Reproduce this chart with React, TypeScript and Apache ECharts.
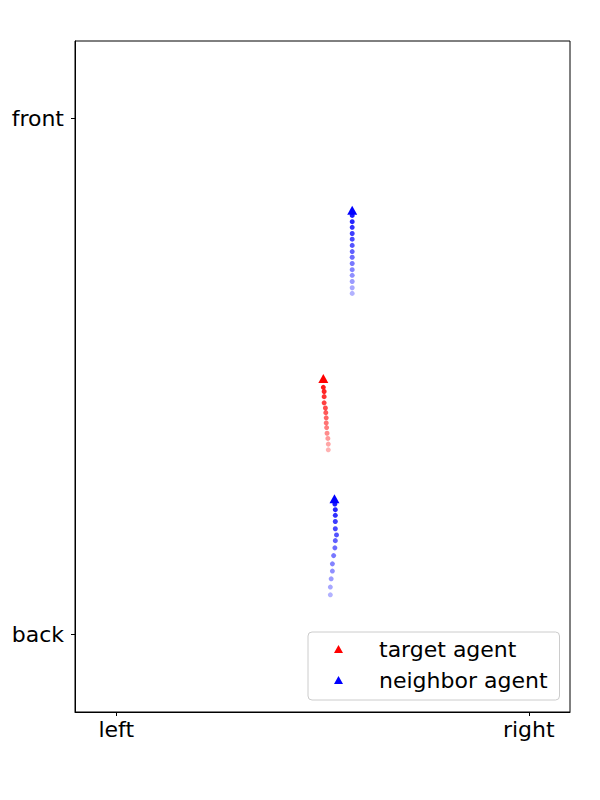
import React, { useEffect, useRef } from "react";
import * as echarts from "echarts";

// x: left = 0, right = 1 ; y: back = 0, front = 1
const xTickValues = [0, 1];
const xTickLabels = ["left", "right"];
const yTickValues = [0, 1];
const yTickLabels = ["back", "front"];

// trajectories, oldest -> newest
const targetX = [0.514, 0.514, 0.513, 0.511, 0.51, 0.509, 0.509, 0.508, 0.507, 0.504, 0.504, 0.504, 0.502];
const targetY = [0.358, 0.369, 0.38, 0.39, 0.401, 0.41, 0.42, 0.43, 0.439, 0.449, 0.461, 0.471, 0.479];
const targetHead = [0.502, 0.496];

const neighbor1X = [0.572, 0.572, 0.572, 0.572, 0.572, 0.572, 0.572, 0.572, 0.572, 0.572, 0.572, 0.572, 0.572, 0.572];
const neighbor1Y = [0.661, 0.672, 0.684, 0.696, 0.707, 0.719, 0.731, 0.742, 0.754, 0.766, 0.777, 0.789, 0.8, 0.812];
const neighbor1Head = [0.572, 0.822];

const neighbor2X = [0.519, 0.519, 0.521, 0.524, 0.524, 0.527, 0.53, 0.531, 0.534, 0.531, 0.531, 0.531, 0.531, 0.53];
const neighbor2Y = [0.077, 0.092, 0.108, 0.123, 0.137, 0.153, 0.168, 0.182, 0.193, 0.205, 0.219, 0.231, 0.242, 0.253];
const neighbor2Head = [0.529, 0.263];

const FONT = "DejaVu Sans";

function trail(xs: number[], ys: number[], color: string, name: string) {
  const n = xs.length;
  return {
    type: "scatter",
    name,
    symbol: "circle",
    symbolSize: 5,
    z: 3,
    data: xs.map((x, i) => ({
      value: [x, ys[i]],
      itemStyle: { color, opacity: 0.3 + (0.6 * i) / Math.max(1, n - 1) },
    })),
  };
}

function head(p: number[], color: string, name: string) {
  return {
    type: "scatter",
    name,
    symbol: "triangle",
    symbolSize: [10, 9],
    z: 4,
    itemStyle: { color, opacity: 1 },
    data: [p],
  };
}

export default function App() {
  const ref = useRef<HTMLDivElement>(null);
  useEffect(() => {
    if (!ref.current) return;
    const chart = echarts.init(ref.current, null, { renderer: "svg" });
    chart.setOption({
      animation: false,
      backgroundColor: "#ffffff",
      grid: {
        left: 75,
        right: 30,
        top: 41,
        bottom: 88,
        show: true,
        borderColor: "#000",
        borderWidth: 1,
        backgroundColor: "transparent",
      },
      xAxis: {
        type: "value",
        min: -0.1,
        max: 1.1,
        splitLine: { show: false },
        axisLine: { show: true, onZero: false, lineStyle: { color: "#000", width: 1 } },
        axisTick: { show: true, customValues: xTickValues, length: 4, lineStyle: { color: "#000", width: 1 } },
        axisLabel: {
          customValues: xTickValues,
          formatter: (v: number) => xTickLabels[xTickValues.indexOf(Math.round(v))] ?? "",
          fontSize: 22,
          fontFamily: FONT,
          color: "#000",
          margin: 6,
        },
      },
      yAxis: {
        type: "value",
        min: -0.15,
        max: 1.15,
        splitLine: { show: false },
        axisLine: { show: true, onZero: false, lineStyle: { color: "#000", width: 1 } },
        axisTick: { show: true, customValues: yTickValues, length: 4, lineStyle: { color: "#000", width: 1 } },
        axisLabel: {
          customValues: yTickValues,
          formatter: (v: number) => yTickLabels[yTickValues.indexOf(Math.round(v))] ?? "",
          fontSize: 22,
          fontFamily: FONT,
          color: "#000",
          margin: 11,
        },
      },
      legend: {
        left: 308,
        top: 632,
        orient: "vertical",
        itemWidth: 9,
        itemHeight: 8,
        itemGap: 9,
        padding: [6, 12, 9, 26],
        backgroundColor: "rgba(255,255,255,0.8)",
        borderColor: "#cccccc",
        borderWidth: 1,
        borderRadius: 4,
        textStyle: {
          fontSize: 22,
          fontFamily: FONT,
          color: "#000",
          padding: [0, 0, 0, 31],
          lineHeight: 22,
        },
        data: [
          { name: "target agent", icon: "triangle" },
          { name: "neighbor agent", icon: "triangle" },
        ],
      },
      series: [
        trail(targetX, targetY, "#ff0000", "target trail"),
        trail(neighbor1X, neighbor1Y, "#0000ff", "neighbor trail 1"),
        trail(neighbor2X, neighbor2Y, "#0000ff", "neighbor trail 2"),
        head(targetHead, "#ff0000", "target agent"),
        head(neighbor1Head, "#0000ff", "neighbor agent"),
        head(neighbor2Head, "#0000ff", "neighbor agent"),
      ],
    });
    return () => chart.dispose();
  }, []);
  return (
    <div
      ref={ref}
      style={{ position: "fixed", left: 0, top: 0, width: 600, height: 800, background: "#fff" }}
    />
  );
}
